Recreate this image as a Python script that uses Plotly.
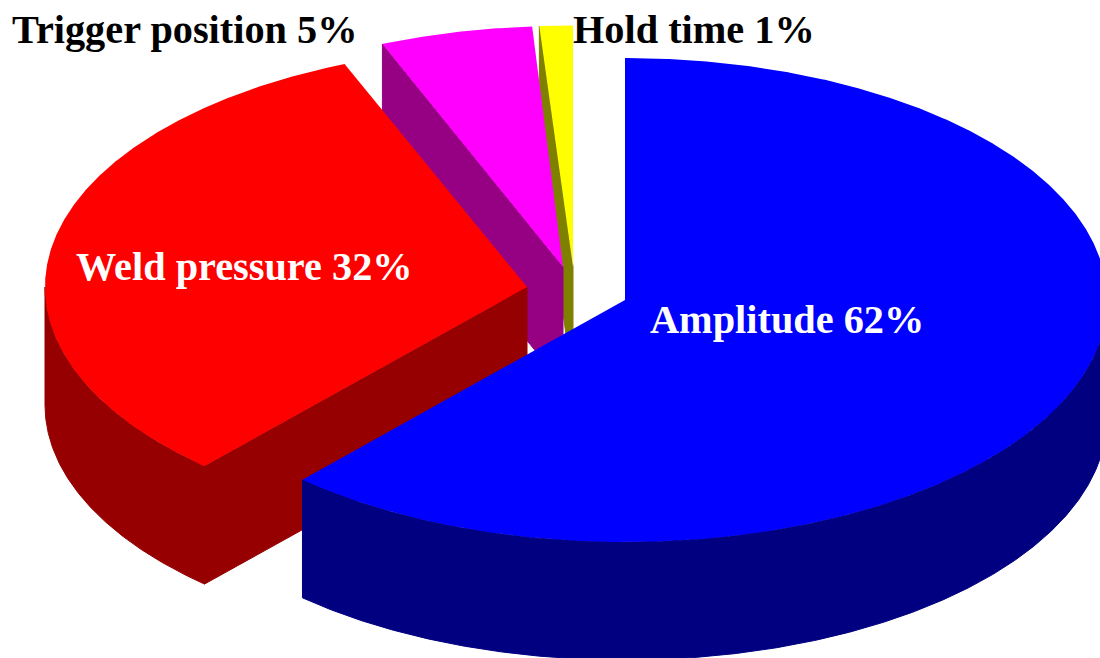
import numpy as np
import plotly.graph_objects as go

# Share of each factor, drawn clockwise from twelve o'clock
factors = ["Amplitude", "Weld pressure", "Trigger position", "Hold time"]
shares = [62, 32, 5, 1]

# Colours of the top face and of the side walls
top_colours = ["#0000ff", "#ff0000", "#ff00ff", "#ffff00"]
wall_colours = ["#000080", "#960000", "#960082", "#808000"]

# Where each exploded slice sits on the canvas: apex x, apex y, radius x, radius y
placement = {
    "Amplitude": (625, 300, 482, 242),
    "Weld pressure": (527, 287, 482, 241),
    "Trigger position": (563, 267, 477, 241),
    "Hold time": (573, 266.5, 520, 241),
}
DEPTH = 118
FORESHORTEN = 1.75  # degrees of angular drift from the tilted projection
WIDTH, HEIGHT = 1100, 658

# Caption text, its left edge, vertical centre and colour
captions = [
    ("Trigger position", 12, 29, "#000000"),
    ("Hold time", 573, 29, "#000000"),
    ("Weld pressure", 76, 266, "#ffffff"),
    ("Amplitude", 650, 319, "#ffffff"),
]


def projected(angle):
    """Clockwise pie angle as it lands on the tilted disc."""
    return angle + FORESHORTEN * np.sin(np.radians(angle))


def rim(cx, cy, rx, ry, a0, a1):
    """Points of the elliptical rim between two clockwise angles in degrees."""
    t = np.radians(np.linspace(a0, a1, max(int(abs(a1 - a0) * 4), 2)))
    return cx + rx * np.sin(t), cy - ry * np.cos(t)


def polygon(fig, xs, ys, colour, edge=0):
    fig.add_trace(go.Scatter(
        x=xs, y=ys, mode="lines", fill="toself", fillcolor=colour,
        line=dict(width=edge, color=colour), hoverinfo="skip", showlegend=False,
    ))


fig = go.Figure()

ends = np.cumsum(shares) * 3.6
starts = ends - np.array(shares) * 3.6

# Paint from the back of the pie to the front so nearer slices cover farther ones
for i in reversed(range(len(factors))):
    cx, cy, rx, ry = placement[factors[i]]
    a0, a1 = float(projected(starts[i])), float(projected(ends[i]))

    # Cut face on the slice's leading edge, visible when it turns toward the viewer
    if a0 > 180:
        ex, ey = rim(cx, cy, rx, ry, a0, a0)
        polygon(fig,
                [cx, ex[0], ex[0], cx, cx],
                [cy, ey[0], ey[0] + DEPTH, cy + DEPTH, cy],
                wall_colours[i], edge=1)

    # Outer wall along the part of the rim on the near half of the ellipse
    w0, w1 = max(a0, 90.0), min(a1, 270.0)
    if w1 > w0:
        wx, wy = rim(cx, cy, rx, ry, w0, w1)
        polygon(fig,
                np.concatenate([wx, wx[::-1]]),
                np.concatenate([wy, wy[::-1] + DEPTH]),
                wall_colours[i], edge=1)

    # Top face
    tx, ty = rim(cx, cy, rx, ry, a0, a1)
    polygon(fig,
            np.concatenate([[cx], tx, [cx]]),
            np.concatenate([[cy], ty, [cy]]),
            top_colours[i])

percent = dict(zip(factors, shares))
for name, x, y, colour in captions:
    fig.add_annotation(
        x=x, y=y, text=f"{name} {percent[name]}%", showarrow=False,
        xanchor="left", yanchor="middle", xshift=-2,
        font=dict(family="Liberation Serif", size=40.3, color=colour, weight="bold"),
    )

fig.update_layout(
    width=WIDTH, height=HEIGHT, margin=dict(l=0, r=0, t=0, b=0),
    paper_bgcolor="#ffffff", plot_bgcolor="#ffffff", showlegend=False,
    xaxis=dict(range=[0, WIDTH], visible=False, fixedrange=True),
    yaxis=dict(range=[HEIGHT, 0], visible=False, fixedrange=True),
)

fig.write_html("out.html", config={"displayModeBar": False})
